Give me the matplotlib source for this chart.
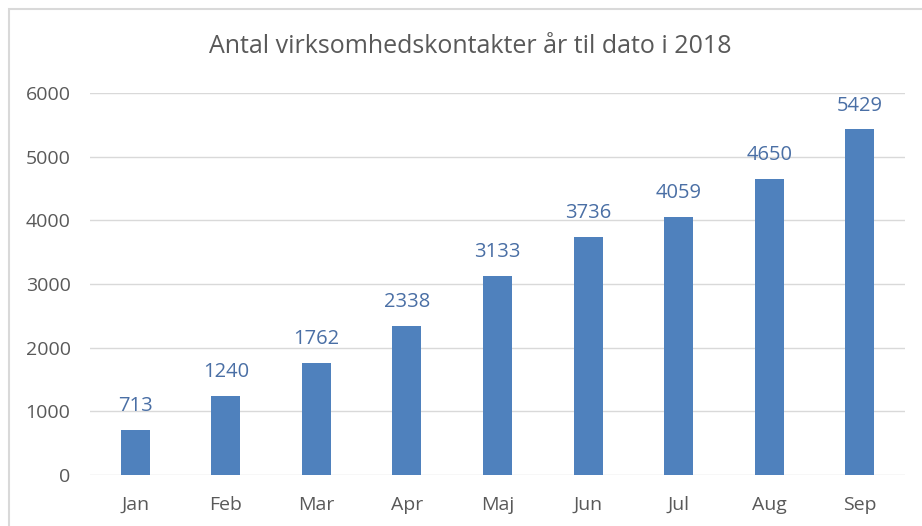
import matplotlib.pyplot as plt
from matplotlib.patches import Rectangle

months = ["Jan", "Feb", "Mar", "Apr", "Maj", "Jun", "Jul", "Aug", "Sep"]
contacts = [713, 1240, 1762, 2338, 3133, 3736, 4059, 4650, 5429]
yticks = [0, 1000, 2000, 3000, 4000, 5000, 6000]

plt.rcParams['font.family'] = ['Open Sans', 'DejaVu Sans']

fig = plt.figure(figsize=(9.22, 5.26), dpi=100)
ax = fig.add_axes([0.0976, 0.097, 0.884, 0.726])

x = range(len(months))
bars = ax.bar(x, contacts, width=0.32, color="#4F81BD", zorder=3)
for xi, v in zip(x, contacts):
    ax.annotate(str(v), (xi, v), xytext=(0, 10), textcoords="offset points",
                ha="center", va="bottom", fontsize=14.5, color="#4A6FA5")

ax.set_xlim(-0.5, len(months) - 0.5)
ax.set_ylim(0, 6000)
ax.set_yticks(yticks)
ax.set_xticks(list(x))
ax.set_xticklabels(months)
ax.grid(axis="y", color="#D9D9D9", linewidth=1, zorder=0)
for s in ax.spines.values():
    s.set_visible(False)
ax.tick_params(length=0, labelsize=14, labelcolor="#595959")
ax.tick_params(axis="y", pad=14)
ax.tick_params(axis="x", pad=15)

fig.text(0.51, 0.912, "Antal virksomhedskontakter år til dato i 2018",
         ha="center", va="center", fontsize=18, color="#595959")

# chart frame
fig.patches.append(Rectangle((9 / 922, -0.1), 1.0, 1.1 - 9 / 526,
                             transform=fig.transFigure, fill=False,
                             edgecolor="#D9D9D9", linewidth=1.5))

fig.savefig("out.png", dpi=100)
